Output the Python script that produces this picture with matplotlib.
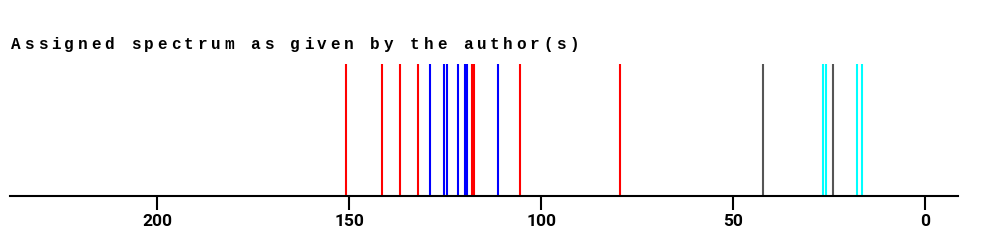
import matplotlib

matplotlib.use("Agg")
import matplotlib.pyplot as plt  # noqa: E402

# deslocamentos químicos (ppm) por cor de atribuição
red_shifts = [150.8, 141.6, 136.9, 132.2, 118.2, 117.6, 105.5, 79.5]
blue_shifts = [129.0, 125.4, 124.7, 121.8, 119.9, 119.3, 111.4]
gray_shifts = [42.3, 24.0]
cyan_shifts = [26.6, 25.9, 17.9, 16.4]

tick_values = [200, 150, 100, 50, 0]
title = "Assigned spectrum as given by the author(s)"

W, H = 993, 249
fig = plt.figure(figsize=(W / 100, H / 100), dpi=100)
ax = fig.add_axes([10 / W, (H - 196) / H, (958 - 10) / W, (196 - 63.5) / H])

for shifts, color in ((red_shifts, "#ff0000"), (blue_shifts, "#0000ff"),
                      (gray_shifts, "#555555"), (cyan_shifts, "#00ffff")):
    ax.vlines(shifts, 0, 1, colors=color, linewidth=1.5)

ax.set_xlim(238.4, -8.5)
ax.set_ylim(0, 1)
ax.set_yticks([])
for side in ("top", "right", "left"):
    ax.spines[side].set_visible(False)
ax.spines["bottom"].set_linewidth(1.5)
ax.set_xticks(tick_values)
ax.set_xticklabels([str(v) for v in tick_values])
ax.tick_params(axis="x", length=10, width=1.5, pad=3, labelsize=12.5)
for lab in ax.get_xticklabels():
    lab.set_fontfamily(["Roboto", "DejaVu Sans"])
    lab.set_fontweight("bold")

# título monoespaçado com espaçamento largo entre letras
pitch = 13.3
for i, ch in enumerate(title):
    fig.text((16 + i * pitch) / W, (H - 49) / H, ch, ha="center", va="baseline",
             fontsize=11.5, fontweight="bold",
             family=["Liberation Mono", "DejaVu Sans Mono"])

fig.savefig("out.png", dpi=100)
